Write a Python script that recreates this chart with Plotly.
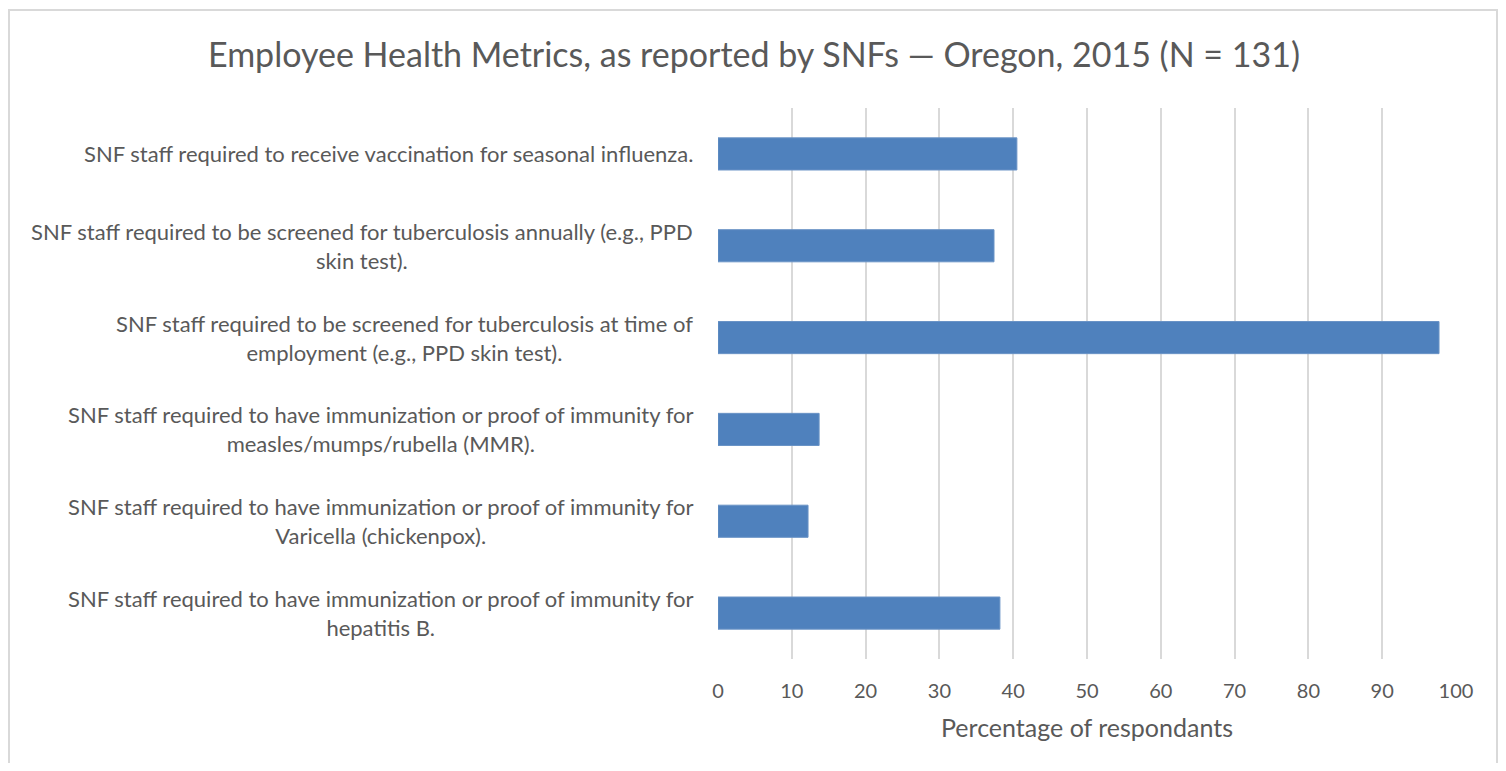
import plotly.graph_objects as go

categories = [
    "SNF staff required to receive vaccination for seasonal influenza.",
    "SNF staff required to be screened for tuberculosis annually (e.g., PPD<br>skin test).",
    "SNF staff required to be screened for tuberculosis at time of<br>employment (e.g., PPD skin test).",
    "SNF staff required to have immunization or proof of immunity for<br>measles/mumps/rubella (MMR).",
    "SNF staff required to have immunization or proof of immunity for<br>Varicella (chickenpox).",
    "SNF staff required to have immunization or proof of immunity for<br>hepatitis B.",
]
percentages = [40.5, 37.4, 97.7, 13.7, 12.2, 38.2]
x_ticks = [0, 10, 20, 30, 40, 50, 60, 70, 80, 90, 100]

title_text = "Employee Health Metrics, as reported by SNFs \u2014 Oregon, 2015 (N = 131)"
x_title = "Percentage of respondants"

FONT = "Lato"
TXT = "#595959"
GRID = "#d9d9d9"

OFF = 8  # default page body margin
W, H = 1506 - 2 * OFF, 771 - 2 * OFF
# plot area in reference (page) pixels: x 718..1456, y 108..659
L = 718 - OFF
R = W - (1456 - OFF)
T = 108 - OFF
B = H - (659 - OFF)
pw = W - L - R
ph = H - T - B

fig = go.Figure()
fig.add_trace(go.Bar(
    x=percentages,
    y=categories,
    orientation="h",
    marker=dict(color="#4f81bd", line=dict(color="#6a93c6", width=1)),
    hoverinfo="x",
))

annotations = []
for c in categories:
    annotations.append(dict(
        x=0, xref="paper", y=c, yref="y",
        xanchor="right", yanchor="middle", xshift=-23,
        text=c, showarrow=False, align="center",
        font=dict(family=FONT, size=22, color=TXT),
    ))

def fig_px_to_paper_x(fx):
    return (fx - L) / pw

def fig_px_to_paper_y(fy):
    return (H - B - fy) / ph

fig.update_layout(
    width=W, height=H,
    margin=dict(l=L, r=R, t=T, b=B, autoexpand=False),
    paper_bgcolor="white",
    plot_bgcolor="white",
    font=dict(family=FONT, color=TXT),
    title=dict(
        text=title_text,
        x=(754 - OFF) / W, xanchor="center", xref="container",
        y=1 - (55 - OFF) / H, yanchor="middle", yref="container",
        font=dict(family=FONT, size=34, color=TXT),
    ),
    bargap=0.65,
    showlegend=False,
    annotations=annotations,
    shapes=[dict(
        type="rect", xref="paper", yref="paper",
        x0=fig_px_to_paper_x(1), x1=fig_px_to_paper_x(W - 1),
        y0=fig_px_to_paper_y(H + 20), y1=fig_px_to_paper_y(2),
        line=dict(color=GRID, width=2), fillcolor="rgba(0,0,0,0)",
        layer="below",
    )],
)

fig.update_xaxes(
    range=[0, 100],
    tickvals=x_ticks,
    showgrid=True, gridcolor=GRID, gridwidth=1.5,
    zeroline=False, showline=False,
    ticks="", ticklabelstandoff=18,
    tickfont=dict(family=FONT, size=20, color=TXT),
    title=dict(text=x_title, font=dict(family=FONT, size=25, color=TXT), standoff=18),
    automargin=False,
)
fig.update_yaxes(
    categoryorder="array", categoryarray=categories,
    autorange="reversed",
    showticklabels=False, showgrid=False, zeroline=False, showline=False,
    ticks="",
    automargin=False,
)

fig.write_html("out.html")
